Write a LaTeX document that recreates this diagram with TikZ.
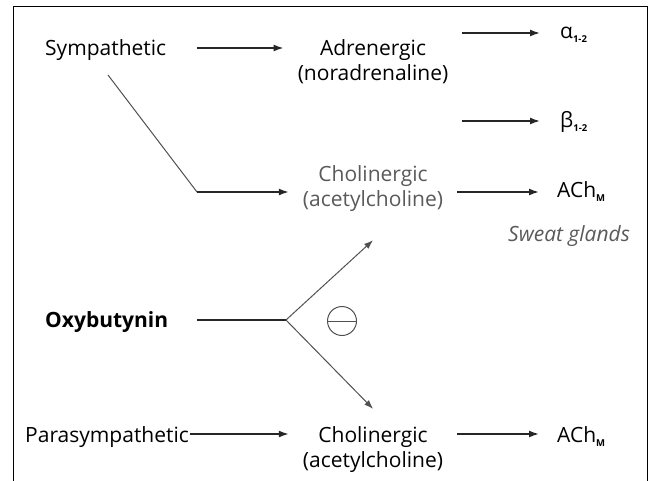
\documentclass[tikz,border=0pt]{standalone}
\usepackage{fontspec}
\setmainfont{Open Sans}
\usetikzlibrary{arrows.meta,calc}
\definecolor{txtgray}{HTML}{5A5A5A}
\definecolor{linegray}{HTML}{505050}
\newcommand{\subsm}[1]{\raisebox{-4pt}{\fontsize{9.5}{9.5}\selectfont\bfseries #1}}
\begin{document}
\begin{tikzpicture}[x=1pt,y=-1pt,
  lbl/.style={font=\fontsize{21}{24}\selectfont, inner sep=0pt, anchor=base},
  arr/.style={-{Latex[length=10pt,width=7pt]}, line width=1.5pt, draw=black!85},
  plain/.style={line width=1.5pt, draw=black!85},
  thinarr/.style={-{Latex[length=9pt,width=6.5pt]}, line width=1pt, draw=linegray},
  thinl/.style={line width=1pt, draw=linegray}]
\useasboundingbox (0,0) rectangle (651,480);
\draw[line width=1pt] (13,481) -- (13,6) -- (647,6) -- (647,481);

% levels and columns
\coordinate (lvA) at (0,33);
\coordinate (lvS) at (0,48);
\coordinate (lvB) at (0,121);
\coordinate (lvC) at (0,192);
\coordinate (lvO) at (0,320);
\coordinate (lvP) at (0,434);
\coordinate (colL) at (197,0);

% nodes
\node[lbl, anchor=base west] (symp) at (45,55) {Sympathetic};
\node[lbl] (adrA) at (373,55) {Adrenergic};
\node[lbl] (adrB) at (373,80) {(noradrenaline)};
\node[lbl, anchor=base west] (alpha) at (560,38) {α\subsm{1-2}};
\node[lbl, anchor=base west] (beta) at (560,127) {β\subsm{1-2}};
\node[lbl, text=txtgray] (cholA) at (373,181) {Cholinergic};
\node[lbl, text=txtgray] (cholB) at (373,206) {(acetylcholine)};
\node[lbl, anchor=base west] (achmA) at (557,197) {ACh\subsm{M}};
\node[lbl, text=txtgray, anchor=base west, font=\fontsize{21}{24}\selectfont\itshape] (sweat) at (508,241) {Sweat glands};
\node[lbl, anchor=base west, font=\fontsize{21}{24}\selectfont\bfseries] (oxy) at (45,327) {Oxybutynin};
\node[circle, draw=linegray, line width=1pt, minimum size=29pt, inner sep=0pt] (minus) at (342,321) {};
\node[lbl, anchor=base west] (para) at (25,442) {Parasympathetic};
\node[lbl] (cholC) at (373,442) {Cholinergic};
\node[lbl] (cholD) at (373,467) {(acetylcholine)};
\node[lbl, anchor=base west] (achmB) at (557,442) {ACh\subsm{M}};

\coordinate (sb) at (108,75);
\coordinate (bend) at (197,192);
\coordinate (j) at (286,320);

% connectors
\draw[arr] (colL |- lvS) -- ([xshift=-14pt]adrB.west |- lvS);
\draw[arr] ([xshift=14pt]adrB.east |- lvA) -- ([xshift=-20pt]alpha.west |- lvA);
\draw[arr] ([xshift=14pt]adrB.east |- lvB) -- ([xshift=-20pt]beta.west |- lvB);
\draw[thinl] (sb) -- (bend);
\draw[arr] (bend) -- ([xshift=-14pt]cholB.west |- lvC);
\draw[arr] ([xshift=14pt]cholB.east |- lvC) -- ([xshift=-18pt]achmA.west |- lvC);
\draw[plain] (colL |- lvO) -- (j);
\draw[thinarr] (j) -- ([yshift=-29pt]cholB.south);
\draw[thinarr] (j) -- ([yshift=17pt]cholC.north);
\draw[thinl] (minus.west) -- (minus.east);
\draw[arr] ([xshift=1pt]para.east |- lvP) -- ([xshift=-14pt]cholD.west |- lvP);
\draw[arr] ([xshift=14pt]cholD.east |- lvP) -- ([xshift=-18pt]achmB.west |- lvP);
\end{tikzpicture}
\end{document}
